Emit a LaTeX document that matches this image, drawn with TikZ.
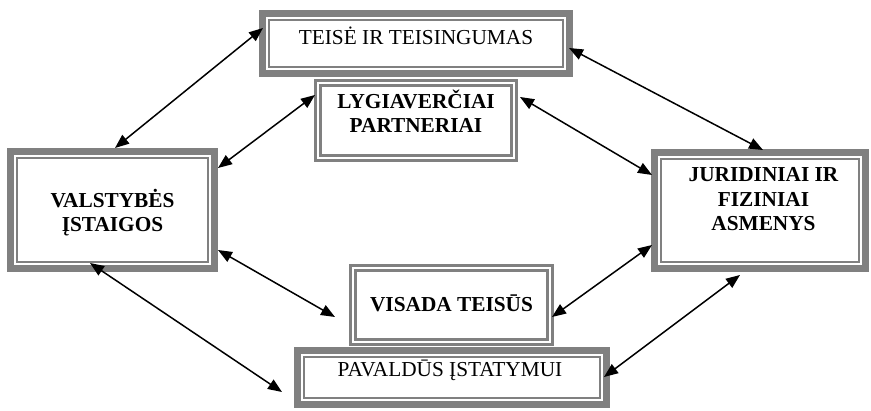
\documentclass[tikz,border=0pt]{standalone}
\usepackage{fontspec}
\setmainfont{Liberation Serif}
\usetikzlibrary{arrows.meta}
\definecolor{framegray}{HTML}{808080}
\newcommand\lblfont{\fontsize{21.3}{24.5}\selectfont}
\begin{document}
\begin{tikzpicture}[x=1pt,y=-1pt,
  bigbox/.style={draw=framegray, line width=7pt, fill=white, inner sep=0pt},
  smallbox/.style={draw=framegray, line width=2.6pt, fill=white, inner sep=0pt},
  bigin/.style={draw=framegray, line width=2pt},
  smallin/.style={draw=framegray, line width=3pt},
  lbl/.style={font=\lblfont, align=center, inner sep=0pt, anchor=base},
  blbl/.style={lbl, font=\lblfont\bfseries},
  conn/.style={line width=1.5pt, {Triangle[length=14pt,width=11pt]}-{Triangle[length=14pt,width=11pt]}}
]
\useasboundingbox (0,0) rectangle (871,411);

% frames: node paths sit half a line width inside the outer edge
\node[bigbox, minimum width=307pt, minimum height=60pt] (T) at (416,43.5) {};
\node[bigbox, minimum width=204pt, minimum height=117pt] (L) at (112.5,210) {};
\node[bigbox, minimum width=211pt, minimum height=116pt] (R) at (760,210.5) {};
\node[bigbox, minimum width=309pt, minimum height=54pt] (B) at (452,377.5) {};
\node[smallbox, minimum width=201.4pt, minimum height=80.4pt] (P) at (416,120.5) {};
\node[smallbox, minimum width=202.4pt, minimum height=79.4pt] (V) at (451.5,305) {};

% inner lines of the double frames
\foreach \n in {T,L,R,B}
  \draw[bigin] ([shift={(10pt,10pt)}]\n.south west) rectangle ([shift={(-10pt,-10pt)}]\n.north east);
\foreach \n in {P,V}
  \draw[smallin] ([shift={(6.6pt,6.6pt)}]\n.south west) rectangle ([shift={(-6.6pt,-6.6pt)}]\n.north east);

% labels (base anchor of a multi-line label is its last baseline)
\node[lbl]  (tT) at (416,45)    {TEISĖ IR TEISINGUMAS};
\node[blbl] (tP) at (416,133)   {LYGIAVERČIAI\\PARTNERIAI};
\node[blbl] (tL) at (112.5,232) {VALSTYBĖS\\ĮSTAIGOS};
\node[blbl] (tR) at (763.5,231) {JURIDINIAI IR\\FIZINIAI\\ASMENYS};
\node[blbl] (tV) at (451.5,312) {VISADA TEISŪS};
\node[lbl]  (tB) at (450,377)   {PAVALDŪS ĮSTATYMUI};

% connectors
\draw[conn] ([xshift=2.5pt]L.north) -- ([shift={(4pt,15.5pt)}]T.west);
\draw[conn] ([yshift=-20pt]L.north east) -- ([shift={(1pt,25.5pt)}]P.west);
\draw[conn] ([shift={(-4pt,-4.5pt)}]T.east) -- ([shift={(3pt,-1pt)}]R.north);
\draw[conn] ([shift={(2pt,23.5pt)}]P.east) -- ([shift={(1pt,35.5pt)}]R.west);
\draw[conn] ([shift={(1pt,-34.5pt)}]R.west) -- ([shift={(-2pt,-12pt)}]V.east);
\draw[conn] ([shift={(-20pt,-3pt)}]R.south) -- ([shift={(-6pt,0.5pt)}]B.east);
\draw[conn] ([yshift=22pt]L.south east) -- ([shift={(-14pt,-12pt)}]V.west);
\draw[conn] ([shift={(-22.5pt,9pt)}]L.south) -- ([shift={(-12pt,-14.5pt)}]B.west);
\end{tikzpicture}
\end{document}
